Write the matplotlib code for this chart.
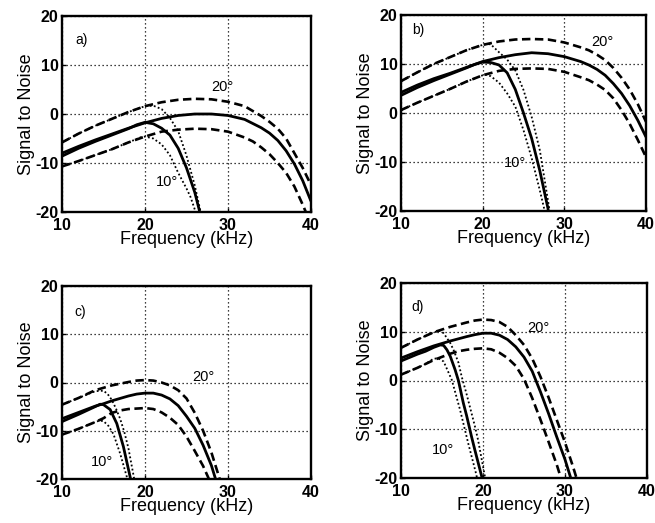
import matplotlib
matplotlib.use("Agg")
import matplotlib.pyplot as plt

plt.rcParams['font.family'] = ['Liberation Sans', 'DejaVu Sans']
plt.rcParams['axes.unicode_minus'] = False

# ---------------- data (Frequency kHz, Signal to Noise dB) ----------------
# Panel a
a_mid20_f = [10, 12, 14, 16, 18, 20, 22, 24, 26, 28, 30, 32, 34, 35, 36, 37, 38, 39, 40]
a_mid20_v = [-8.0, -6.6, -5.3, -4.1, -2.9, -1.8, -0.9, -0.3, 0, 0, -0.3, -1.1, -2.8, -3.9, -5.4, -7.5, -10.2, -13.6, -17.8]
a_hi20_f = [10, 12, 14, 16, 18, 20, 22, 24, 26, 28, 30, 32, 34, 35, 36, 37, 38, 39, 40]
a_hi20_v = [-5.8, -4.0, -2.4, -1.0, 0.4, 1.6, 2.4, 2.9, 3.1, 3.0, 2.5, 1.6, -0.4, -1.6, -3.0, -5.0, -8.0, -11.0, -14.5]
a_lo20_f = [10, 12, 14, 16, 18, 20, 22, 24, 26, 28, 30, 32, 33, 34, 35, 36, 37, 38, 39, 39.5]
a_lo20_v = [-10.7, -9.6, -8.4, -7.2, -5.8, -4.6, -3.6, -3.2, -3.0, -3.1, -3.6, -4.8, -5.6, -6.8, -8.2, -10.0, -12.0, -14.8, -18.5, -20.5]
a_mid10_f = [10, 12, 14, 16, 18, 19, 20, 21, 22, 23, 24, 25, 26, 26.6, 26.7]
a_mid10_v = [-8.6, -7.0, -5.6, -4.3, -3.0, -2.2, -1.7, -2.0, -2.9, -4.3, -7.0, -11.0, -16.0, -20, -21]
a_hi10_f = [10, 12, 14, 16, 18, 20, 21, 22, 23, 24, 25, 26, 26.7, 26.8]
a_hi10_v = [-5.8, -4.0, -2.4, -1.0, 0.4, 1.6, 1.7, 1.0, -0.8, -3.5, -8.5, -14.6, -20, -21]
a_lo10_f = [10, 12, 14, 16, 18, 19.4, 20, 21, 22, 23, 24, 25, 25.5, 26.1, 26.2]
a_lo10_v = [-10.7, -9.6, -8.4, -7.2, -5.8, -4.8, -4.6, -5.0, -6.2, -8.4, -12.0, -15.2, -17.0, -20, -21]

# Panel b
b_mid20_f = [10, 12, 14, 16, 18, 20, 22, 24, 26, 28, 30, 32, 33, 34, 35, 36, 37, 38, 39, 40]
b_mid20_v = [4.2, 5.7, 7.0, 8.1, 9.3, 10.5, 11.3, 11.9, 12.3, 12.1, 11.5, 10.5, 9.8, 8.9, 7.7, 6.0, 4.0, 1.5, -1.5, -4.9]
b_hi20_f = [10, 12, 14, 16, 18, 20, 22, 24, 26, 28, 30, 32, 33, 34, 35, 36, 37, 38, 39, 40]
b_hi20_v = [6.5, 8.3, 10.0, 11.4, 12.8, 13.9, 14.6, 15.0, 15.1, 15.0, 14.4, 13.4, 12.8, 11.9, 10.8, 9.2, 7.2, 4.8, 1.8, -1.8]
b_lo20_f = [10, 12, 14, 16, 18, 20, 22, 24, 26, 28, 30, 32, 33, 34, 35, 36, 37, 38, 39, 40]
b_lo20_v = [0.6, 2.1, 3.5, 4.9, 6.4, 7.7, 8.6, 9.0, 9.1, 9.0, 8.4, 7.3, 6.7, 5.8, 4.7, 3.0, 0.6, -2.2, -5.5, -9.0]
b_mid10_f = [10, 12, 14, 16, 18, 19, 20, 21, 22, 23, 24, 25, 26, 27, 28, 28.1]
b_mid10_v = [3.6, 5.2, 6.6, 7.9, 9.2, 9.9, 10.4, 10.3, 9.8, 8.2, 4.8, 0.0, -5.2, -11.8, -19.5, -21]
b_hi10_f = [10, 12, 14, 16, 18, 20, 20.5, 21, 22, 23, 24, 25, 26, 27, 28, 28.2, 28.3]
b_hi10_v = [6.5, 8.3, 10.0, 11.4, 12.8, 13.9, 14.1, 14.0, 12.4, 10.9, 8.7, 4.7, -0.8, -7.6, -17.9, -20, -21]
b_lo10_f = [10, 12, 14, 16, 18, 20, 20.5, 21, 22, 23, 24, 25, 26, 27, 27.6, 27.7]
b_lo10_v = [0.6, 2.1, 3.5, 4.9, 6.4, 7.7, 7.8, 7.5, 6.2, 4.0, 1.3, -3.5, -9.2, -15.8, -20, -21]

# Panel c
c_mid20_f = [10, 12, 14, 15, 16, 18, 19, 20, 21, 22, 23, 24, 25, 26, 27, 28, 28.5, 28.6]
c_mid20_v = [-7.5, -6.2, -4.9, -4.4, -3.8, -2.8, -2.4, -2.2, -2.2, -2.6, -3.4, -4.8, -7.0, -9.5, -13.0, -17.2, -20, -21]
c_hi20_f = [10, 12, 14, 16, 18, 19, 20, 21, 22, 23, 24, 25, 26, 27, 28, 29, 29.1]
c_hi20_v = [-4.6, -3.2, -1.6, -0.6, 0.1, 0.4, 0.5, 0.4, 0, -0.6, -1.6, -3.3, -6.3, -10.0, -14.5, -20, -21]
c_lo20_f = [10, 12, 14, 15, 16, 17, 18, 20, 21, 22, 23, 24, 25, 26, 27, 27.7, 27.8]
c_lo20_v = [-10.8, -9.6, -8.2, -7.4, -6.3, -5.8, -5.5, -5.3, -5.5, -6.2, -7.3, -8.8, -11.2, -14.2, -17.3, -20, -21]
c_mid10_f = [10, 12, 13, 14, 14.6, 15, 15.8, 16.6, 17.4, 18.2, 18.4]
c_mid10_v = [-8.1, -6.6, -5.8, -5.0, -4.5, -4.6, -5.6, -8.5, -13.3, -19.5, -21]
c_hi10_f = [10, 12, 14, 15, 15.5, 16, 16.5, 17, 17.5, 18, 18.7, 18.8]
c_hi10_v = [-4.6, -3.2, -1.8, -1.7, -2.4, -3.6, -5.4, -7.5, -10.2, -13.6, -20, -21]
c_lo10_f = [10, 12, 13, 14, 14.5, 15, 15.6, 16.2, 17, 17.8, 18]
c_lo10_v = [-10.8, -9.6, -8.9, -8.2, -7.9, -8.0, -9.0, -10.7, -14.7, -19.5, -21]

# Panel d
d_mid20_f = [10, 12, 14, 16, 18, 19, 20, 21, 22, 23, 24, 25, 26, 27, 28, 29, 30, 30.7, 30.8]
d_mid20_v = [4.6, 5.9, 7.1, 8.1, 9.0, 9.4, 9.7, 9.7, 9.3, 8.4, 6.9, 4.8, 1.9, -2.3, -6.8, -11.6, -16.2, -20, -21]
d_hi20_f = [10, 12, 14, 16, 18, 19, 20, 21, 22, 23, 24, 25, 26, 27, 28, 29, 30, 31, 31.4, 31.5]
d_hi20_v = [6.7, 8.4, 9.9, 11.0, 11.9, 12.3, 12.5, 12.4, 12.0, 11.0, 9.3, 7.3, 4.5, 0.8, -3.5, -8.1, -12.7, -17.8, -20, -21]
d_lo20_f = [10, 12, 14, 16, 17, 18, 19, 20, 21, 22, 23, 24, 25, 26, 27, 28, 29, 29.5, 29.6]
d_lo20_v = [1.2, 2.6, 4.2, 5.5, 6.0, 6.3, 6.5, 6.6, 6.4, 5.7, 4.6, 3.0, 0.3, -3.6, -8.0, -12.6, -17.3, -20, -21]
d_mid10_f = [10, 12, 13, 14, 14.8, 15.2, 15.6, 16, 16.6, 17, 17.6, 18, 18.6, 19, 19.8, 20]
d_mid10_v = [4.0, 5.4, 6.0, 6.8, 7.3, 7.2, 6.3, 5.0, 2.2, 0, -4.6, -7.2, -11.5, -14.2, -19.4, -20.7]
d_hi10_f = [10, 12, 14, 14.8, 15.2, 16, 16.4, 17, 17.4, 18, 18.4, 19, 19.4, 20.2, 20.3]
d_hi10_v = [6.7, 8.4, 9.9, 10.2, 9.7, 7.7, 6.3, 3.7, 0.8, -2.8, -5.4, -9.3, -12.2, -19.4, -20.5]
d_lo10_f = [10, 12, 13, 13.9, 14.5, 15.2, 16.2, 17.2, 18.2, 19.2, 19.3]
d_lo10_v = [1.2, 2.6, 3.4, 4.4, 4.6, 3.9, 0.1, -6.0, -12.9, -19.4, -20.5]

panel_labels = ['a)', 'b)', 'c)', 'd)']
label_pos = [(12.4, 15.1), (12.1, 16.9), (12.2, 14.6), (12.0, 15.0)]
deg20_pos = [(29.3, 5.5), (34.7, 14.5), (27.0, 1.1), (26.7, 10.8)]
deg10_pos = [(22.7, -13.9), (24.0, -10.2), (14.8, -16.5), (15.1, -14.2)]

xticks = [10, 20, 30, 40]
yticks = [-20, -10, 0, 10, 20]

panels = [
    (a_mid20_f, a_mid20_v, a_hi20_f, a_hi20_v, a_lo20_f, a_lo20_v,
     a_mid10_f, a_mid10_v, a_hi10_f, a_hi10_v, a_lo10_f, a_lo10_v),
    (b_mid20_f, b_mid20_v, b_hi20_f, b_hi20_v, b_lo20_f, b_lo20_v,
     b_mid10_f, b_mid10_v, b_hi10_f, b_hi10_v, b_lo10_f, b_lo10_v),
    (c_mid20_f, c_mid20_v, c_hi20_f, c_hi20_v, c_lo20_f, c_lo20_v,
     c_mid10_f, c_mid10_v, c_hi10_f, c_hi10_v, c_lo10_f, c_lo10_v),
    (d_mid20_f, d_mid20_v, d_hi20_f, d_hi20_v, d_lo20_f, d_lo20_v,
     d_mid10_f, d_mid10_v, d_hi10_f, d_hi10_v, d_lo10_f, d_lo10_v),
]

# axes rectangles in figure fractions
W, H = 655.0, 523.0
rects = [
    (62 / W, (H - 212) / H, 249 / W, 196 / H),
    (401 / W, (H - 211) / H, 245 / W, 196 / H),
    (62 / W, (H - 479) / H, 249 / W, 193 / H),
    (401 / W, (H - 478) / H, 246 / W, 195 / H),
]

fig = plt.figure(figsize=(6.55, 5.23), dpi=100)

for i, (data, rect) in enumerate(zip(panels, rects)):
    (m20f, m20v, h20f, h20v, l20f, l20v, m10f, m10v, h10f, h10v, l10f, l10v) = data
    ax = fig.add_axes(rect)
    ax.set_xlim(10, 40)
    ax.set_ylim(-20, 20)
    ax.set_xticks(xticks)
    ax.set_yticks(yticks)
    ax.grid(True, color='black', linestyle=(0, (1, 2.2)), linewidth=0.9)
    ax.set_axisbelow(True)
    # 20 degree set
    ax.plot(m20f, m20v, color='black', lw=2.0, solid_capstyle='butt')
    ax.plot(h20f, h20v, color='black', lw=1.9, dashes=(3.2, 1.7))
    ax.plot(l20f, l20v, color='black', lw=1.9, dashes=(3.2, 1.7))
    # 10 degree set
    ax.plot(m10f, m10v, color='black', lw=2.0, solid_capstyle='butt')
    ax.plot(h10f, h10v, color='black', lw=1.3, linestyle=(0, (1, 1.3)))
    ax.plot(l10f, l10v, color='black', lw=1.3, linestyle=(0, (1, 1.3)))

    for sp in ax.spines.values():
        sp.set_linewidth(1.7)
    ax.tick_params(axis='x', direction='in', length=3, width=1, pad=4)
    ax.tick_params(axis='y', direction='in', length=3, width=1, pad=2.5)
    for lab in ax.get_xticklabels() + ax.get_yticklabels():
        lab.set_fontweight('bold')
        lab.set_fontsize(11.5)
    ax.set_xlabel('Frequency (kHz)', fontsize=13, labelpad=-1)
    ax.set_ylabel('Signal to Noise', fontsize=13, labelpad=0)

    ax.text(label_pos[i][0], label_pos[i][1], panel_labels[i], fontsize=10,
            ha='center', va='center')
    ax.text(deg20_pos[i][0], deg20_pos[i][1], '20°', fontsize=10.5,
            ha='center', va='center')
    ax.text(deg10_pos[i][0], deg10_pos[i][1], '10°', fontsize=10.5,
            ha='center', va='center')

fig.savefig('out.png', dpi=100)
